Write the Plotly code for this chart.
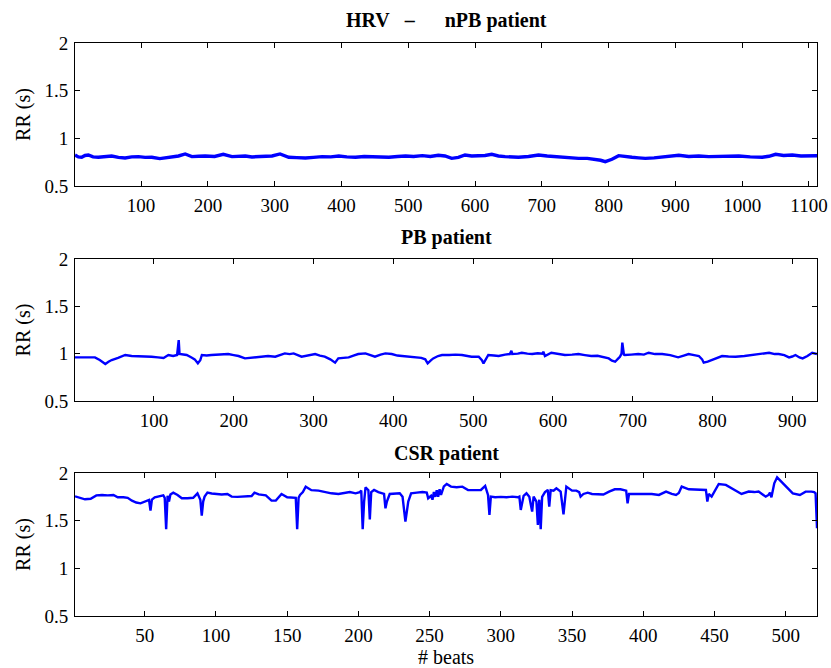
import plotly.graph_objects as go

# ---------------- data ----------------
npb_beats = [1, 6, 11, 16, 21, 28, 36, 46, 56, 66, 76, 86, 96, 106, 116, 128, 137, 146, 156, 166,
             176, 186, 196, 210, 223, 236, 246, 256, 266, 276, 286, 296, 308, 321, 333, 346, 358,
             371, 384, 396, 408, 421, 434, 446, 458, 471, 484, 496, 508, 521, 533, 545, 555, 565,
             575, 585, 595, 605, 615, 625, 635, 645, 655, 665, 680, 695, 708, 720, 738, 755, 768,
             780, 788, 795, 800, 805, 815, 825, 835, 845, 855, 868, 880, 893, 905, 920, 935, 950,
             965, 980, 995, 1012, 1030, 1040, 1050, 1062, 1075, 1088, 1100, 1112]
npb_rr = [0.825, 0.805, 0.801, 0.82, 0.825, 0.805, 0.801, 0.812, 0.815, 0.80, 0.794, 0.805, 0.808,
          0.80, 0.801, 0.787, 0.797, 0.808, 0.815, 0.836, 0.808, 0.812, 0.815, 0.81, 0.832, 0.808,
          0.815, 0.815, 0.805, 0.808, 0.81, 0.815, 0.836, 0.801, 0.798, 0.794, 0.80, 0.808, 0.805,
          0.815, 0.806, 0.801, 0.81, 0.808, 0.80, 0.801, 0.81, 0.815, 0.81, 0.818, 0.81, 0.822,
          0.815, 0.79, 0.80, 0.825, 0.815, 0.815, 0.82, 0.832, 0.815, 0.808, 0.805, 0.801, 0.81,
          0.825, 0.815, 0.808, 0.80, 0.79, 0.79, 0.78, 0.77, 0.755, 0.765, 0.78, 0.818, 0.805,
          0.801, 0.795, 0.79, 0.795, 0.801, 0.81, 0.822, 0.81, 0.815, 0.808, 0.808, 0.81, 0.815,
          0.805, 0.801, 0.812, 0.832, 0.82, 0.825, 0.815, 0.815, 0.818]

pb_beats = [1, 9, 18, 26, 32, 36, 39, 43, 47, 55, 64, 72, 80, 90, 97, 105, 112, 118, 124, 129, 130,
            131, 132, 136, 141, 147, 151, 155, 158, 160, 166, 172, 182, 193, 200, 206, 214, 220,
            227, 235, 243, 252, 258, 264, 270, 275, 285, 293, 302, 308, 314, 321, 327, 331, 337,
            344, 350, 356, 365, 371, 377, 384, 390, 398, 405, 411, 420, 427, 435, 440, 443, 447,
            450, 456, 461, 470, 478, 486, 498, 507, 511, 513, 516, 519, 526, 532, 540, 546, 548,
            549, 556, 561, 568, 574, 581, 587, 588, 590, 598, 606, 615, 624, 632, 640, 648, 656,
            665, 670, 674, 678, 682, 684, 686, 687, 689, 690, 698, 707, 714, 720, 728, 737, 747,
            757, 764, 770, 777, 783, 787, 789, 794, 800, 806, 812, 820, 829, 840, 850, 860, 871,
            878, 883, 890, 896, 900, 904, 909, 913, 919, 925, 931]
pb_rr = [0.961, 0.961, 0.958, 0.961, 0.933, 0.905, 0.891, 0.915, 0.933, 0.955, 0.986, 0.975, 0.975,
         0.97, 0.968, 0.961, 0.955, 0.986, 0.975, 0.986, 1.10, 1.144, 0.996, 0.99, 0.986, 0.96,
         0.940, 0.898, 0.93, 0.986, 0.98, 0.986, 0.99, 0.996, 0.985, 0.975, 0.950, 0.955, 0.961,
         0.965, 0.975, 0.968, 0.985, 1.003, 0.995, 1.003, 0.968, 0.985, 0.996, 0.98, 0.968, 0.940,
         0.905, 0.950, 0.955, 0.961, 0.98, 0.996, 1.003, 0.985, 0.968, 0.99, 1.003, 0.996, 0.98,
         0.975, 0.97, 0.961, 0.955, 0.940, 0.898, 0.93, 0.950, 0.975, 0.986, 0.986, 0.99, 0.986,
         0.968, 0.968, 0.93, 0.898, 0.94, 0.986, 0.98, 0.975, 0.99, 0.996, 1.031, 0.996, 1.0,
         1.010, 1.0, 0.996, 1.005, 1.0, 1.021, 0.975, 1.010, 0.995, 0.986, 0.99, 0.996, 0.985,
         0.975, 0.978, 0.961, 0.95, 0.926, 0.915, 0.95, 0.968, 1.0, 1.116, 0.99, 0.986, 0.99,
         0.996, 0.99, 1.010, 0.996, 0.996, 0.985, 0.961, 0.98, 0.996, 0.985, 0.975, 0.94, 0.905,
         0.915, 0.933, 0.95, 0.975, 0.97, 0.968, 0.975, 0.986, 0.99, 1.010, 0.996, 0.996, 0.985,
         0.961, 0.97, 0.986, 0.96, 0.950, 0.975, 1.010, 0.996]

csr_beats = [1, 4, 8, 12, 16, 20, 24, 28, 31, 35, 38, 41, 44, 47, 50, 53, 54, 55, 57, 60, 63, 64,
             65, 66, 67, 68, 70, 73, 76, 80, 84, 87, 89, 90, 91, 92, 94, 97, 100, 104, 108, 111,
             115, 120, 125, 127, 130, 135, 139, 142, 146, 150, 154, 156, 157, 158, 159, 161, 163,
             167, 172, 177, 181, 186, 190, 194, 198, 201, 202, 203, 204, 205, 207, 208, 209, 211,
             214, 216, 218, 219, 220, 222, 226, 229, 231, 233, 235, 237, 241, 245, 248, 249, 251,
             252, 253, 254, 255, 256, 257, 258, 260, 262, 265, 269, 273, 277, 282, 286, 289, 291,
             292, 293, 296, 300, 304, 308, 312, 313, 314, 316, 318, 320, 322, 323, 325, 326, 327,
             328, 329, 331, 333, 334, 335, 337, 339, 342, 344, 345, 346, 350, 353, 355, 356, 358,
             361, 364, 368, 372, 376, 380, 384, 388, 389, 390, 394, 398, 402, 406, 411, 416, 420,
             423, 425, 427, 432, 437, 441, 444, 445, 446, 448, 450, 453, 458, 462, 465, 469, 474,
             478, 481, 486, 488, 489, 490, 492, 494, 497, 500, 505, 510, 514, 518, 520, 521, 522]
csr_rr = [1.755, 1.745, 1.724, 1.73, 1.765, 1.77, 1.765, 1.77, 1.745, 1.745, 1.74, 1.71, 1.69,
          1.682, 1.70, 1.717, 1.605, 1.72, 1.745, 1.759, 1.765, 1.74, 1.41, 1.76, 1.70, 1.775,
          1.794, 1.77, 1.735, 1.735, 1.74, 1.787, 1.72, 1.553, 1.70, 1.752, 1.794, 1.785, 1.78,
          1.775, 1.78, 1.752, 1.75, 1.752, 1.759, 1.794, 1.775, 1.765, 1.71, 1.71, 1.78, 1.745,
          1.745, 1.74, 1.41, 1.74, 1.77, 1.80, 1.857, 1.82, 1.815, 1.80, 1.787, 1.78, 1.787, 1.80,
          1.787, 1.80, 1.815, 1.41, 1.70, 1.85, 1.82, 1.514, 1.80, 1.822, 1.80, 1.794, 1.78, 1.63,
          1.70, 1.78, 1.78, 1.787, 1.75, 1.49, 1.70, 1.787, 1.794, 1.80, 1.794, 1.735, 1.76, 1.72,
          1.80, 1.75, 1.82, 1.75, 1.83, 1.77, 1.86, 1.885, 1.857, 1.85, 1.857, 1.822, 1.82, 1.822,
          1.864, 1.77, 1.56, 1.752, 1.745, 1.75, 1.745, 1.752, 1.745, 1.752, 1.612, 1.76, 1.787,
          1.75, 1.595, 1.752, 1.70, 1.455, 1.72, 1.41, 1.75, 1.80, 1.822, 1.647, 1.82, 1.815,
          1.84, 1.805, 1.567, 1.75, 1.857, 1.815, 1.815, 1.80, 1.752, 1.78, 1.794, 1.78, 1.78,
          1.775, 1.805, 1.829, 1.829, 1.815, 1.682, 1.78, 1.78, 1.78, 1.775, 1.78, 1.77, 1.805,
          1.78, 1.77, 1.79, 1.857, 1.829, 1.829, 1.829, 1.822, 1.70, 1.78, 1.752, 1.805, 1.885,
          1.875, 1.84, 1.822, 1.78, 1.805, 1.80, 1.805, 1.752, 1.77, 1.794, 1.745, 1.892, 1.955,
          1.91, 1.857, 1.787, 1.77, 1.805, 1.805, 1.80, 1.787, 1.42]

panel_titles = ["HRV\u00a0\u00a0\u00a0–\u00a0\u00a0\u00a0\u00a0\u00a0\u00a0nPB patient",
                "PB patient", "CSR patient"]
x_ticks_npb = [100, 200, 300, 400, 500, 600, 700, 800, 900, 1000, 1100]
x_ticks_pb = [100, 200, 300, 400, 500, 600, 700, 800, 900]
x_ticks_csr = [50, 100, 150, 200, 250, 300, 350, 400, 450, 500]
y_ticks = [0.5, 1, 1.5, 2]
y_tick_text = ["0.5", "1", "1.5", "2"]
y_label = "RR (s)"
x_label = "# beats"

# ---------------- figure ----------------
W, H = 831, 668
FONT = "Liberation Serif"
BLUE = "#0000ff"

fig = go.Figure()
series = [(npb_beats, npb_rr, 3.4), (pb_beats, pb_rr, 2.4), (csr_beats, csr_rr, 2.4)]
for i, (xs, ys, lw) in enumerate(series):
    sfx = "" if i == 0 else str(i + 1)
    fig.add_trace(go.Scatter(x=xs, y=ys, mode="lines", line=dict(color=BLUE, width=lw),
                             xaxis="x" + sfx, yaxis="y" + sfx, showlegend=False,
                             hoverinfo="skip"))

# pixel boxes: (top, bottom)
boxes = [(43, 186), (259, 401), (473, 616)]
left_px, right_px = 75, 817
xranges = [[1, 1112], [1, 931], [1, 522]]
xticks = [x_ticks_npb, x_ticks_pb, x_ticks_csr]

axis_common = dict(showline=True, linecolor="black", linewidth=1, mirror="ticks",
                   ticks="inside", ticklen=5, tickcolor="black", tickwidth=1,
                   showgrid=False, zeroline=False, automargin=False,
                   tickfont=dict(family=FONT, size=19, color="black"))

layout = dict(width=W, height=H, margin=dict(l=0, r=0, t=0, b=0, autoexpand=False),
              paper_bgcolor="white", plot_bgcolor="white", showlegend=False)
for i, (top, bot) in enumerate(boxes):
    sfx = "" if i == 0 else str(i + 1)
    xa = dict(axis_common, domain=[left_px / W, right_px / W], range=xranges[i],
              tickmode="array", tickvals=xticks[i], ticktext=[str(v) for v in xticks[i]],
              anchor="y" + sfx, ticklabelstandoff=2)
    ya = dict(axis_common, domain=[1 - bot / H, 1 - top / H], range=[0.5, 2],
              tickmode="array", tickvals=y_ticks, ticktext=y_tick_text,
              anchor="x" + sfx, ticklabelstandoff=2,
              title=dict(text=y_label, font=dict(family=FONT, size=20, color="black"),
                         standoff=8))
    layout["xaxis" + sfx] = xa
    layout["yaxis" + sfx] = ya

fig.update_layout(**layout)

title_y_px = [20, 237, 453]
for t, yp in zip(panel_titles, title_y_px):
    fig.add_annotation(text="<b>" + t + "</b>", xref="paper", yref="paper",
                       x=(left_px + right_px) / 2 / W, y=1 - yp / H,
                       xanchor="center", yanchor="middle", showarrow=False,
                       font=dict(family=FONT, size=20, color="black"))

fig.add_annotation(text=x_label, xref="paper", yref="paper",
                   x=(left_px + right_px) / 2 / W, y=1 - 657 / H,
                   xanchor="center", yanchor="middle", showarrow=False,
                   font=dict(family=FONT, size=20, color="black"))

fig.write_html("out.html", config={"displayModeBar": False},
               post_script="document.body.style.margin='0';document.body.style.overflow='hidden';")
